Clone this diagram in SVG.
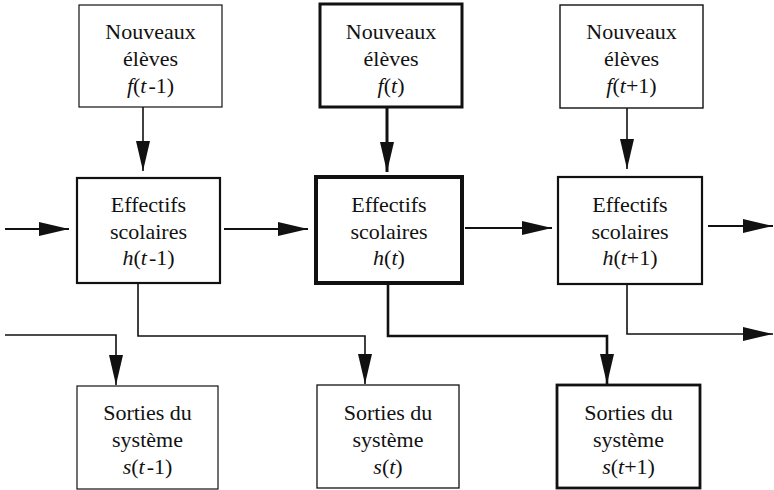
<svg xmlns="http://www.w3.org/2000/svg" width="774" height="490" viewBox="0 0 774 490">
<style>
text{font-family:"Liberation Serif","DejaVu Serif","Times New Roman",serif;font-size:22px;fill:#111;text-anchor:middle}
.i{font-style:italic}
rect{fill:#fff;stroke:#111}
.c{fill:none;stroke:#111;stroke-width:1.6}
</style>
<defs>
<marker id="ah" markerUnits="userSpaceOnUse" markerWidth="32" markerHeight="16" refX="30" refY="7" orient="auto"><path d="M0,0 L30,7 L0,14 z" fill="#111"/></marker>
</defs>
<rect width="774" height="490" style="fill:#fff;stroke:none"/>
<g id="connectors">
<path class="c" d="M143,107 V171" marker-end="url(#ah)"/>
<path class="c" d="M387,107 V172" style="stroke-width:3" marker-end="url(#ah)"/>
<path class="c" d="M627,108 V169" marker-end="url(#ah)"/>
<path class="c" d="M5,229 H69" style="stroke-width:2" marker-end="url(#ah)"/>
<path class="c" d="M224,229 H308" style="stroke-width:2.2" marker-end="url(#ah)"/>
<path class="c" d="M465,228 H552" style="stroke-width:2" marker-end="url(#ah)"/>
<path class="c" d="M708,226 H773" style="stroke-width:2" marker-end="url(#ah)"/>
<path class="c" d="M5,335 H116 V385" marker-end="url(#ah)"/>
<path class="c" d="M138,283 V336 H365 V384" marker-end="url(#ah)"/>
<path class="c" d="M388,283 V336 H607 V384" style="stroke-width:2.6" marker-end="url(#ah)"/>
<path class="c" d="M627,285 V334 H773" marker-end="url(#ah)"/>
</g>
<g id="f1"><rect x="79" y="5" width="143" height="102" style="stroke-width:1.2"/>
<text x="150.5" y="39">Nouveaux</text><text x="150.5" y="66">élèves</text>
<text x="150.5" y="93"><tspan class="i">f</tspan>(<tspan class="i">t</tspan><tspan dx="2">-1)</tspan></text></g>
<g id="f2"><rect x="320" y="4" width="142" height="103" style="stroke-width:3"/>
<text x="391" y="39">Nouveaux</text><text x="391" y="66">élèves</text>
<text x="391" y="93"><tspan class="i">f</tspan>(<tspan class="i">t</tspan>)</text></g>
<g id="f3"><rect x="560" y="5" width="143" height="103" style="stroke-width:1.4"/>
<text x="631.5" y="39">Nouveaux</text><text x="631.5" y="66">élèves</text>
<text x="631.5" y="93"><tspan class="i">f</tspan>(<tspan class="i">t</tspan>+1)</text></g>
<g id="h1"><rect x="77" y="178" width="143" height="105" style="stroke-width:2.2"/>
<text x="148.5" y="212">Effectifs</text><text x="148.5" y="239">scolaires</text>
<text x="148.5" y="265"><tspan class="i">h</tspan>(<tspan class="i">t</tspan><tspan dx="2">-1)</tspan></text></g>
<g id="h2"><rect x="316" y="177" width="146" height="106" style="stroke-width:4"/>
<text x="389" y="212">Effectifs</text><text x="389" y="239">scolaires</text>
<text x="389" y="265"><tspan class="i">h</tspan>(<tspan class="i">t</tspan>)</text></g>
<g id="h3"><rect x="558" y="177" width="144" height="107" style="stroke-width:2.2"/>
<text x="630" y="212">Effectifs</text><text x="630" y="239">scolaires</text>
<text x="630" y="265"><tspan class="i">h</tspan>(<tspan class="i">t</tspan>+1)</text></g>
<g id="s1"><rect x="77" y="386" width="141" height="103" style="stroke-width:1.2"/>
<text x="147.5" y="420">Sorties du</text><text x="147.5" y="447">système</text>
<text x="147.5" y="474"><tspan class="i">s</tspan>(<tspan class="i">t</tspan><tspan dx="2">-1)</tspan></text></g>
<g id="s2"><rect x="317" y="385" width="142" height="103" style="stroke-width:1.3"/>
<text x="388" y="420">Sorties du</text><text x="388" y="447">système</text>
<text x="388" y="474"><tspan class="i">s</tspan>(<tspan class="i">t</tspan>)</text></g>
<g id="s3"><rect x="557" y="385" width="143" height="103" style="stroke-width:2.8"/>
<text x="628.5" y="420">Sorties du</text><text x="628.5" y="447">système</text>
<text x="628.5" y="474"><tspan class="i">s</tspan>(<tspan class="i">t</tspan>+1)</text></g>
</svg>
